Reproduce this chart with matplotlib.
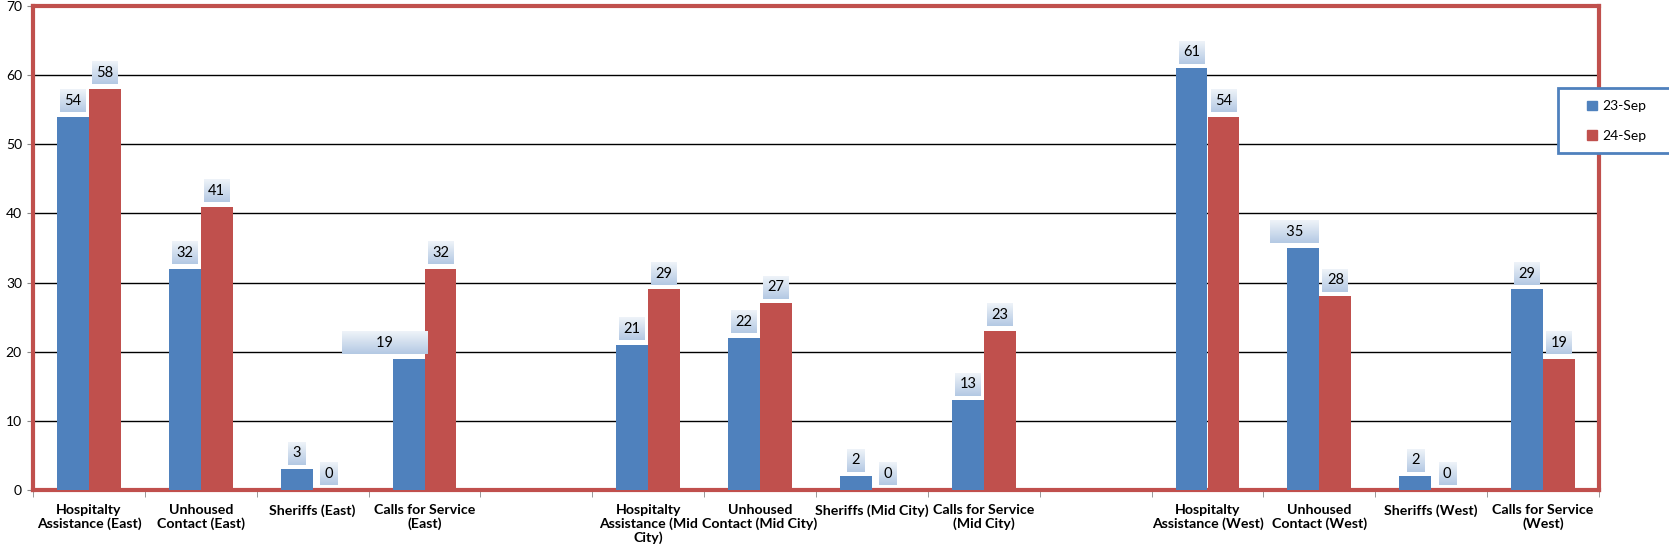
import matplotlib
matplotlib.use('Agg')
import matplotlib.pyplot as plt
import matplotlib.patches as mpatches
import numpy as np

# categories (empty strings are the spacer slots between regions)
categories = [
    'Hospitalty\nAssistance (East)', 'Unhoused\nContact (East)', 'Sheriffs (East)', 'Calls for Service\n(East)',
    '',
    'Hospitalty\nAssistance (Mid\nCity)', 'Unhoused\nContact (Mid City)', 'Sheriffs (Mid City)', 'Calls for Service\n(Mid City)',
    '',
    'Hospitalty\nAssistance (West)', 'Unhoused\nContact (West)', 'Sheriffs (West)', 'Calls for Service\n(West)',
]
sep23 = [54, 32, 3, 19, None, 21, 22, 2, 13, None, 61, 35, 2, 29]
sep24 = [58, 41, 0, 32, None, 29, 27, 0, 23, None, 54, 28, 0, 19]
series_names = ['23-Sep', '24-Sep']

BLUE = '#4f81bd'
RED = '#c0504d'

W, H = 1669, 557
fig = plt.figure(figsize=(W / 100, H / 100), dpi=100)
ax = fig.add_axes([33 / W, 1 - 490 / H, (1599 - 33) / W, (490 - 6) / H])

x = np.arange(len(categories))
bw = 0.286
v23 = np.array([np.nan if v is None else v for v in sep23], dtype=float)
v24 = np.array([np.nan if v is None else v for v in sep24], dtype=float)

ax.bar(x - bw / 2, v23, bw, color=BLUE, zorder=3)
ax.bar(x + bw / 2, v24, bw, color=RED, zorder=3)

# data labels in little boxes; a couple of them are wider/shifted like in the original
wide = {(0, 3): (8, -17), (0, 11): (3, -6.5)}
labels = []
for si, (vals, off) in enumerate([(v23, -bw / 2), (v24, bw / 2)]):
    for i, v in enumerate(vals):
        if np.isnan(v):
            continue
        txt = str(int(v))
        dx = 0
        if (si, i) in wide:
            nsp, dx = wide[(si, i)]
            txt = ' ' * nsp + txt + ' ' * nsp
        a = ax.annotate(txt, (x[i] + off, v), xytext=(dx, 11.5), textcoords='offset points',
                        ha='center', va='center', fontsize=10.5, family='Lato', zorder=6,
                        bbox=dict(boxstyle='square,pad=0.3', facecolor='none', edgecolor='none'))
        labels.append(a)

ax.set_xlim(-0.5, len(categories) - 0.5)
ax.set_ylim(0, 70)
ax.set_yticks(range(0, 71, 10))
ax.yaxis.grid(True, color='black', linewidth=1)
ax.set_axisbelow(True)

ax.set_xticks(x)
ax.set_xticklabels(categories, fontsize=10.2, fontweight='bold',
                   family=['Liberation Sans Narrow', 'Lato'], linespacing=1.15)
ax.set_xticks(np.arange(-0.5, len(categories), 1.0), minor=True)
ax.tick_params(axis='x', which='major', length=0, pad=10)
ax.tick_params(axis='x', which='minor', length=5, color='#888888')
ax.tick_params(axis='y', length=4, color='#888888', pad=4)
for lab in ax.get_yticklabels():
    lab.set_family('Lato')
    lab.set_fontsize(10)

for s in ax.spines.values():
    s.set_color(RED)
    s.set_linewidth(3)

# gradient fill behind each data label (white-ish top to light blue bottom)
grad = np.linspace(0, 1, 32).reshape(-1, 1)
cmap = matplotlib.colors.LinearSegmentedColormap.from_list('lbl', ['#eef3f9', '#b4c9e3'])
fig.canvas.draw()
inv = ax.transData.inverted()
for a in labels:
    bb = a.get_bbox_patch().get_window_extent()
    (x0, y0), (x1, y1) = inv.transform([[bb.x0, bb.y0], [bb.x1, bb.y1]])
    ax.imshow(grad, cmap=cmap, extent=(x0, x1, y0, y1), origin='upper', aspect='auto',
              zorder=5, interpolation='bilinear')
ax.set_xlim(-0.5, len(categories) - 0.5)
ax.set_ylim(0, 70)

# legend box running off the right edge
fig.patches.append(mpatches.Rectangle((1558 / W, 1 - 153 / H), 130 / W, 65 / H,
                                      transform=fig.transFigure, facecolor='white',
                                      edgecolor=BLUE, linewidth=2, zorder=10))
handles = [mpatches.Patch(color=BLUE), mpatches.Patch(color=RED)]
leg = fig.legend(handles, series_names, loc='center left', bbox_to_anchor=(1587 / W, 1 - 121 / H),
                 frameon=False, borderpad=0, borderaxespad=0, handlelength=0.7, handleheight=0.7,
                 handletextpad=0.4, labelspacing=1.25, prop={'family': 'Lato', 'size': 10})
leg.set_zorder(11)

fig.savefig('out.png', dpi=100)
